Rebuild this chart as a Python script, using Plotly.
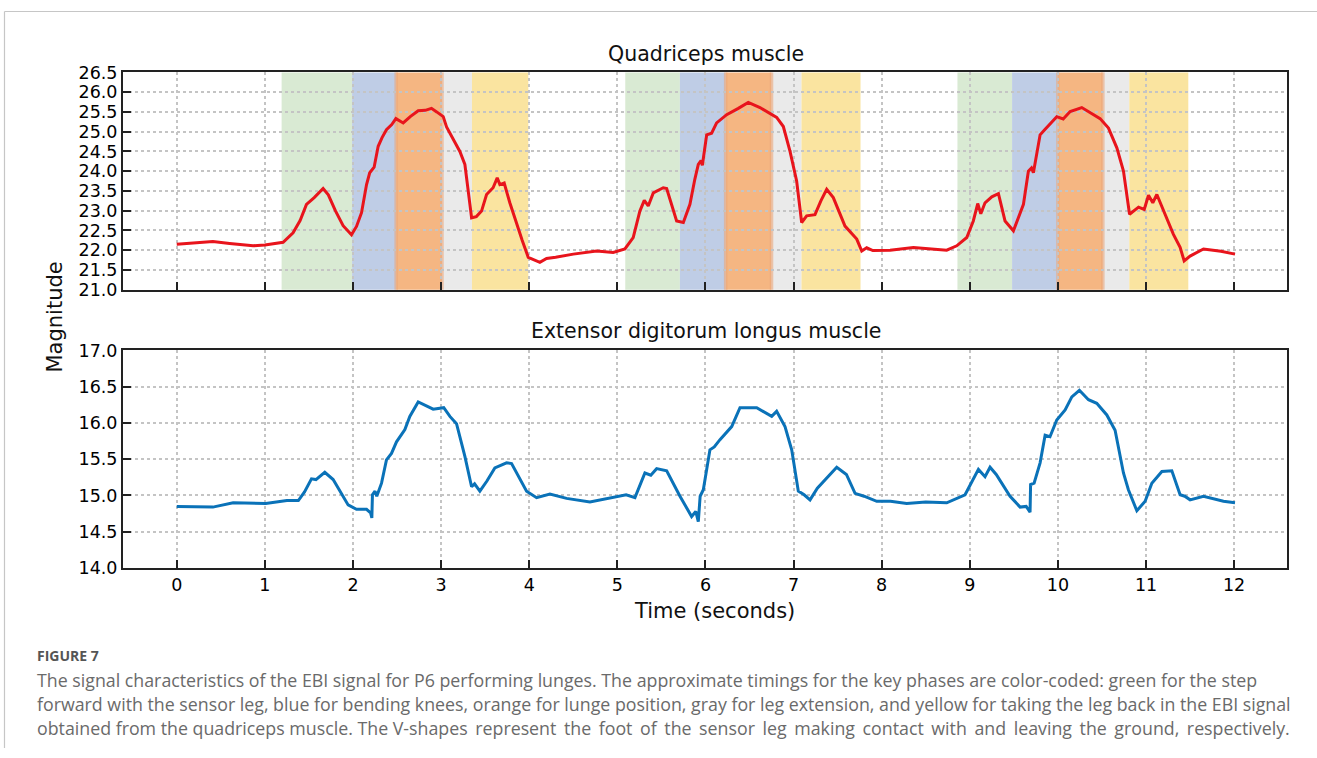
import plotly.graph_objects as go

# ---- EBI signal, quadriceps muscle (P6, lunges) ----
quad_time = [0, 0.2, 0.41, 0.6, 0.866, 1.0, 1.207, 1.32, 1.40, 1.472, 1.56, 1.661, 1.72, 1.80,
             1.888, 1.983, 2.04, 2.097, 2.154, 2.19, 2.24, 2.286, 2.33, 2.38, 2.44, 2.487, 2.57,
             2.65, 2.74, 2.82, 2.891, 2.95, 3.024, 3.062, 3.14, 3.213, 3.27, 3.30, 3.327, 3.346,
             3.40, 3.459, 3.516, 3.59, 3.637, 3.667, 3.716, 3.78, 3.857, 3.92, 3.989, 4.121,
             4.197, 4.3, 4.5, 4.765, 4.953, 5.086, 5.18, 5.256, 5.306, 5.351, 5.408, 5.521, 5.56,
             5.62, 5.673, 5.749, 5.824, 5.88, 5.919, 5.95, 5.965, 6.014, 6.07, 6.127, 6.241,
             6.373, 6.486, 6.619, 6.808, 6.884, 6.96, 7.035, 7.092, 7.149, 7.243, 7.31, 7.376,
             7.451, 7.584, 7.717, 7.774, 7.83, 7.9, 8.095, 8.36, 8.738, 8.852, 8.966, 9.04, 9.09,
             9.125, 9.173, 9.25, 9.325, 9.4, 9.495, 9.609, 9.665, 9.70, 9.722, 9.798, 9.85,
             9.987, 10.06, 10.139, 10.271, 10.479, 10.574, 10.669, 10.744, 10.813, 10.915,
             10.98, 11.028, 11.077, 11.123, 11.198, 11.311, 11.387, 11.433, 11.5, 11.652,
             11.85, 12.01]
quad_mag = [22.15, 22.19, 22.22, 22.17, 22.11, 22.13, 22.2, 22.44, 22.75, 23.16, 23.33, 23.56,
            23.40, 23.0, 22.62, 22.39, 22.6, 22.95, 23.66, 23.96, 24.1, 24.63, 24.85, 25.05,
            25.18, 25.33, 25.22, 25.38, 25.53, 25.54, 25.59, 25.50, 25.38, 25.12, 24.8, 24.5,
            24.17, 23.7, 23.16, 22.82, 22.85, 22.99, 23.41, 23.58, 23.83, 23.66, 23.7, 23.2,
            22.66, 22.25, 21.82, 21.69, 21.79, 21.82, 21.9, 21.98, 21.94, 22.03, 22.32, 22.99,
            23.26, 23.12, 23.45, 23.58, 23.56, 23.1, 22.74, 22.70, 23.16, 23.8, 24.17, 24.27,
            24.15, 24.92, 24.96, 25.22, 25.43, 25.59, 25.74, 25.61, 25.36, 25.13, 24.5, 23.75,
            22.7, 22.87, 22.9, 23.25, 23.54, 23.33, 22.61, 22.28, 21.98, 22.06, 21.99, 22.0,
            22.07, 22.0, 22.11, 22.32, 22.74, 23.18, 22.92, 23.2, 23.35, 23.43, 22.74, 22.49,
            23.16, 24.0, 24.08, 23.96, 24.92, 25.05, 25.38, 25.32, 25.51, 25.61, 25.33, 25.09,
            24.59, 24.0, 22.91, 23.09, 23.03, 23.39, 23.2, 23.41, 22.99, 22.4, 22.07, 21.73,
            21.85, 22.03, 21.97, 21.9]

# ---- EBI signal, extensor digitorum longus muscle ----
edl_time = [0, 0.41, 0.64, 1.01, 1.25, 1.38, 1.45, 1.529, 1.58, 1.68, 1.775, 1.86, 1.945, 2.04,
            2.154, 2.2, 2.214, 2.221, 2.25, 2.27, 2.324, 2.38, 2.437, 2.494, 2.589, 2.645, 2.74,
            2.91, 3.03, 3.1, 3.175, 3.27, 3.346, 3.38, 3.44, 3.52, 3.61, 3.743, 3.8, 3.97, 4.084,
            4.235, 4.424, 4.689, 4.85, 4.992, 5.1, 5.2, 5.313, 5.38, 5.446, 5.56, 5.711, 5.843,
            5.89, 5.919, 5.94, 5.976, 6.051, 6.1, 6.165, 6.298, 6.392, 6.582, 6.752, 6.808,
            6.903, 6.979, 7.054, 7.12, 7.187, 7.27, 7.49, 7.6, 7.698, 7.8, 7.944, 8.1, 8.284,
            8.5, 8.738, 8.946, 9.098, 9.173, 9.23, 9.3, 9.457, 9.571, 9.64, 9.684, 9.69, 9.73,
            9.798, 9.855, 9.91, 9.987, 10.082, 10.158, 10.244, 10.347, 10.441, 10.555, 10.649,
            10.744, 10.8, 10.896, 10.99, 11.066, 11.18, 11.293, 11.387, 11.44, 11.5, 11.652,
            11.879, 12.01]
edl_mag = [14.85, 14.84, 14.90, 14.89, 14.93, 14.93, 15.05, 15.23, 15.22, 15.32, 15.22, 15.05,
           14.87, 14.81, 14.81, 14.76, 14.69, 15.01, 15.06, 14.99, 15.17, 15.49, 15.58, 15.74,
           15.91, 16.09, 16.29, 16.19, 16.21, 16.09, 15.99, 15.54, 15.12, 15.16, 15.06, 15.2,
           15.38, 15.45, 15.44, 15.06, 14.97, 15.02, 14.96, 14.91, 14.95, 14.99, 15.01, 14.97,
           15.31, 15.28, 15.37, 15.34, 14.99, 14.71, 14.78, 14.64, 14.99, 15.08, 15.63, 15.67,
           15.77, 15.95, 16.21, 16.21, 16.09, 16.16, 15.95, 15.63, 15.06, 15.01, 14.94, 15.1,
           15.39, 15.29, 15.03, 14.99, 14.92, 14.92, 14.89, 14.91, 14.9, 15.01, 15.36, 15.26,
           15.39, 15.29, 14.99, 14.84, 14.85, 14.77, 15.15, 15.17, 15.45, 15.83, 15.81, 16.04,
           16.18, 16.36, 16.45, 16.32, 16.27, 16.11, 15.90, 15.31, 15.08, 14.79, 14.92, 15.17,
           15.33, 15.34, 15.01, 14.99, 14.94, 14.99, 14.92, 14.9]

# ---- Phase timings per lunge (seconds): step forward, bend knees, lunge, extension, leg back ----
phase_names = ["step forward", "bending knees", "lunge position", "leg extension", "leg back"]
phase_colors = ["#d9ead3", "#bfcde6", "#f5b682", "#eaeaea", "#fae4a0"]
lunge_1 = [1.19, 1.99, 2.49, 3.01, 3.35, 3.99]
lunge_2 = [5.09, 5.71, 6.23, 6.75, 7.09, 7.76]
lunge_3 = [8.86, 9.48, 10.0, 10.51, 10.81, 11.48]

time_ticks = list(range(0, 13))
quad_ticks = [21.0 + 0.5 * i for i in range(12)]
edl_ticks = [14.0 + 0.5 * i for i in range(7)]

W, H = 1317, 758
# vertical placement helpers: the page sits 8 px down and the plot area is ~741.5 px tall
TOP_OFFSET, DRAW_H = 8.0, 741.5
TICK_FONT = dict(family="DejaVu Sans", size=17.5, color="#000000")
GRID = "#c4c4c4"


def px_x(p):
    return p / W


def px_y(p):
    return 1 - (p - TOP_OFFSET) / DRAW_H


fig = go.Figure()
fig.add_trace(go.Scatter(x=quad_time, y=quad_mag, mode="lines", xaxis="x", yaxis="y",
                         line=dict(color="#e8141c", width=3), showlegend=False))
fig.add_trace(go.Scatter(x=edl_time, y=edl_mag, mode="lines", xaxis="x2", yaxis="y2",
                         line=dict(color="#0a72b8", width=3), showlegend=False))

shapes = []
for lunge in (lunge_1, lunge_2, lunge_3):
    for k, color in enumerate(phase_colors):
        shapes.append(dict(type="rect", xref="x", yref="y domain", x0=lunge[k], x1=lunge[k + 1],
                           y0=0, y1=1, fillcolor=color, line=dict(width=0), layer="below"))
    # slightly darker rims where the lunge-position band meets its neighbours
    for edge in (lunge[2], lunge[3]):
        shapes.append(dict(type="rect", xref="x", yref="y domain", x0=edge - 0.02, x1=edge + 0.02,
                           y0=0, y1=1, fillcolor="#e9a77c", opacity=0.6, line=dict(width=0),
                           layer="below"))

# page frame
shapes.append(dict(type="line", xref="paper", yref="paper", x0=px_x(4.5), x1=1,
                   y0=px_y(9.5), y1=px_y(9.5), line=dict(color="#c6c6c6", width=1.2)))
shapes.append(dict(type="line", xref="paper", yref="paper", x0=px_x(4.5), x1=px_x(4.5),
                   y0=0, y1=px_y(9.5), line=dict(color="#c6c6c6", width=1.2)))

x_common = dict(range=[-0.61, 12.6], tickvals=time_ticks, ticks="inside", ticklen=8, tickwidth=2,
                tickcolor="#222222", showline=True, linewidth=2, linecolor="#222222", mirror=True,
                showgrid=True, gridcolor=GRID, griddash="dot", gridwidth=1.5, zeroline=False,
                tickfont=TICK_FONT, domain=[px_x(123), px_x(1287)])
y_common = dict(ticks="inside", ticklen=8, tickwidth=2, tickcolor="#222222", showline=True,
                linewidth=2, linecolor="#222222", mirror=True, showgrid=True, gridcolor=GRID,
                griddash="dot", gridwidth=1.5, zeroline=False, tickformat=".1f",
                tickfont=TICK_FONT)

fig.update_layout(
    width=W, height=H,
    margin=dict(l=0, r=0, t=0, b=0),
    paper_bgcolor="white", plot_bgcolor="white",
    xaxis=dict(x_common, anchor="y", showticklabels=False),
    yaxis=dict(y_common, range=[21.0, 26.5], tickvals=quad_ticks,
               domain=[px_y(289), px_y(70.7)], anchor="x"),
    xaxis2=dict(x_common, anchor="y2"),
    yaxis2=dict(y_common, range=[14.0, 17.0], tickvals=edl_ticks,
                domain=[px_y(568.7), px_y(350)], anchor="x2"),
    shapes=shapes,
)

ann_font = dict(family="DejaVu Sans", color="#111111")
annotations = [
    dict(text="Quadriceps muscle", x=px_x(705.5), y=px_y(52), font=dict(ann_font, size=20.5)),
    dict(text="Extensor digitorum longus muscle", x=px_x(705.5), y=px_y(331),
         font=dict(ann_font, size=20.5)),
    dict(text="Time (seconds)", x=px_x(714), y=px_y(612), font=dict(ann_font, size=21)),
    dict(text="Magnitude", x=px_x(55), y=px_y(317), textangle=-90, font=dict(ann_font, size=21)),
]
for a in annotations:
    a.update(xref="paper", yref="paper", showarrow=False, xanchor="center", yanchor="middle")

caption_font = dict(family="Open Sans", size=17.8, color="#6a6a6a")
caption_lines = [
    "The signal characteristics of the EBI signal for P6 performing lunges. The approximate "
    "timings for the key phases are color-coded: green for the step",
    "forward with the sensor leg, blue for bending knees, orange for lunge position, gray for "
    "leg extension, and yellow for taking the leg back in the EBI signal",
    "obtained from the quadriceps muscle. The V-shapes represent the foot of the sensor leg "
    "making contact with and leaving the ground, respectively.",
]
# the last caption line is set justified: widen most of its word gaps a little
last_words = caption_lines[2].split(" ")
n_wide = 15
gaps = [" " if i < len(last_words) - 1 - n_wide else " \u2006"
        for i in range(len(last_words) - 1)]
caption_lines[2] = "".join(w + g for w, g in zip(last_words, gaps + [""]))

annotations.append(dict(text="<b>FIGURE 7</b>", x=px_x(35), y=px_y(657), xref="paper",
                        yref="paper", showarrow=False, xanchor="left", yanchor="middle",
                        font=dict(family="Open Sans", size=14, color="#555555")))
for i, line in enumerate(caption_lines):
    annotations.append(dict(text=line, x=px_x(35), y=px_y(681 + 24 * i), xref="paper",
                            yref="paper", showarrow=False, xanchor="left", yanchor="middle",
                            font=caption_font))
fig.update_layout(annotations=annotations)

fig.write_html("out.html")
